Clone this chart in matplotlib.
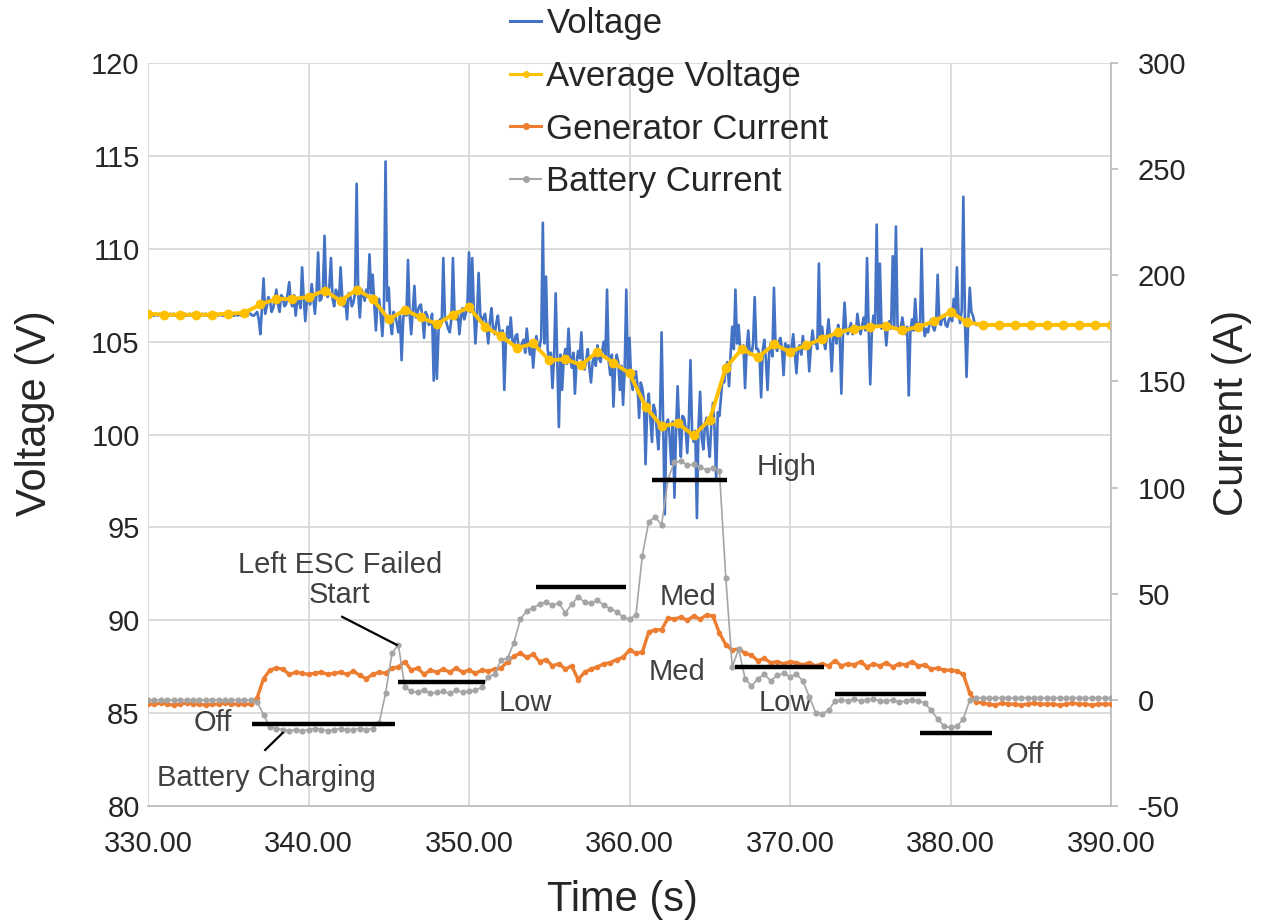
import numpy as np
import matplotlib
matplotlib.use("Agg")
import matplotlib.pyplot as plt
from matplotlib.lines import Line2D

plt.rcParams['font.family'] = ['Liberation Sans', 'DejaVu Sans']
plt.rcParams['axes.unicode_minus'] = False

# Voltage sampled every 0.1 s from 330 s to 390 s (one row = one second)
voltage = [
    106.5, 106.4, 106.5, 106.4, 106.4, 106.5, 106.4, 106.5, 106.4, 106.5,
    106.4, 106.5, 106.4, 106.4, 106.5, 106.4, 106.5, 106.4, 106.4, 106.5,
    106.4, 106.5, 106.4, 106.5, 106.4, 106.4, 106.5, 106.4, 106.5, 106.4,
    106.4, 106.5, 106.4, 106.4, 106.5, 106.4, 106.5, 106.4, 106.4, 106.5,
    106.5, 106.4, 106.4, 106.5, 106.4, 106.5, 106.4, 106.4, 106.5, 106.4,
    106.5, 106.4, 106.5, 106.4, 106.4, 106.5, 106.4, 106.5, 106.4, 106.5,
    106.5, 106.4, 106.4, 106.5, 106.5, 106.4, 106.4, 106.5, 106.6, 106.2,
    105.4, 106.8, 108.4, 106.5, 106.9, 107.4, 107.2, 106.6, 106.8, 107.3,
    107.8, 107.0, 106.6, 107.5, 107.4, 106.9, 107.0, 107.6, 108.2, 107.1,
    106.9, 107.5, 106.4, 107.2, 107.3, 106.8, 109.0, 107.4, 106.1, 107.2,
    107.5, 107.0, 108.1, 107.3, 106.5, 107.6, 109.8, 107.2, 107.3, 107.8,
    110.7, 107.6, 107.4, 108.0, 109.5, 107.3, 106.9, 107.8, 107.6, 107.2,
    109.0, 107.4, 106.9, 107.2, 106.2, 107.6, 107.5, 106.9, 107.1, 107.6,
    113.5, 107.5, 106.3, 107.8, 107.6, 107.2, 107.8, 107.4, 109.7, 107.6,
    108.6, 107.0, 105.6, 107.2, 107.3, 106.4, 105.3, 106.8, 114.7, 107.2,
    107.9, 106.0, 105.4, 106.6, 106.4, 106.0, 105.5, 106.4, 104.0, 106.2,
    106.8, 106.4, 109.4, 106.5, 105.4, 106.7, 108.0, 106.3, 106.6, 106.9,
    107.0, 106.3, 105.2, 106.6, 106.4, 105.9, 106.0, 106.5, 102.9, 105.8,
    103.0, 105.6, 106.2, 106.0, 109.5, 106.3, 106.0, 105.7, 105.5, 106.2,
    109.5, 106.4, 106.2, 106.6, 105.4, 106.3, 106.8, 106.2, 106.5, 106.9,
    109.8, 106.6, 109.5, 106.8, 104.9, 106.4, 108.7, 106.5, 106.0, 106.3,
    106.5, 105.8, 104.9, 106.1, 106.8, 105.7, 105.4, 106.0, 106.4, 105.6,
    105.2, 105.6, 102.4, 105.0, 105.8, 105.2, 106.3, 105.1, 104.8, 105.3,
    105.4, 104.5, 104.6, 104.9, 105.1, 104.4, 105.7, 104.8, 104.3, 104.9,
    103.6, 104.8, 105.3, 104.6, 104.7, 105.2, 111.4, 104.9, 108.5, 104.6,
    104.0, 104.4, 102.5, 104.2, 107.6, 103.9, 100.4, 104.3, 102.4, 104.0,
    104.6, 103.8, 105.7, 104.2, 103.6, 104.4, 102.2, 103.9, 104.5, 104.1,
    105.5, 103.7, 103.5, 104.0, 104.6, 103.6, 102.8, 103.9, 104.2, 103.7,
    104.8, 104.1, 103.9, 104.5, 105.0, 104.2, 107.8, 104.0, 103.2, 104.3,
    101.5, 103.6, 104.3, 103.9, 102.4, 103.7, 101.6, 103.5, 107.8, 103.4,
    105.2, 103.0, 102.4, 103.3, 103.4, 102.6, 100.9, 102.8, 102.5, 101.8,
    98.4, 101.4, 102.2, 100.9, 99.6, 101.6, 101.3, 100.2, 99.2, 101.0,
    105.5, 100.4, 95.7, 100.6, 100.8, 99.9, 98.4, 100.7, 96.6, 100.3,
    102.6, 100.2, 98.8, 101.0, 100.9, 100.3, 99.0, 100.8, 104.0, 100.1,
    99.6, 100.2, 95.5, 100.4, 102.3, 99.8, 99.2, 100.5, 100.9, 99.6,
    98.8, 100.6, 101.7, 100.3, 97.6, 101.2, 101.0, 102.0, 103.1, 102.8,
    103.6, 103.9, 102.6, 104.3, 105.8, 104.6, 107.8, 104.9, 105.9, 104.5,
    104.4, 104.8, 102.5, 104.6, 105.6, 104.3, 104.3, 104.9, 107.4, 104.6,
    104.6, 104.3, 102.0, 104.5, 105.1, 104.0, 102.4, 104.4, 104.9, 104.2,
    107.9, 104.7, 104.5, 105.0, 105.2, 104.6, 103.2, 104.9, 104.6, 104.8,
    104.3, 104.7, 105.4, 104.4, 103.3, 104.6, 104.8, 104.3, 105.3, 104.6,
    104.7, 104.9, 103.4, 104.7, 105.6, 104.9, 105.0, 104.6, 109.2, 105.0,
    105.8, 105.0, 104.6, 105.3, 106.2, 105.1, 103.4, 105.2, 105.5, 104.9,
    105.9, 105.3, 102.2, 105.4, 107.1, 105.6, 105.4, 105.7, 106.0, 105.4,
    105.7, 105.5, 106.5, 105.8, 105.4, 105.9, 106.3, 105.6, 109.5, 105.7,
    102.7, 105.6, 106.4, 105.9, 111.3, 105.8, 109.2, 105.7, 105.9, 106.0,
    104.8, 105.9, 106.1, 105.7, 109.6, 105.8, 111.2, 105.9, 105.5, 105.7,
    106.3, 105.7, 105.4, 105.8, 102.1, 105.5, 106.2, 105.6, 107.3, 105.8,
    106.0, 105.7, 110.0, 105.9, 105.3, 105.7, 105.5, 106.0, 106.2, 105.8,
    105.6, 106.0, 108.6, 106.1, 105.9, 106.3, 106.4, 105.9, 105.8, 106.2,
    106.3, 106.1, 107.3, 106.4, 109.0, 106.5, 106.0, 106.7, 112.8, 106.2,
    103.1, 106.0, 107.9, 106.6, 106.4, 106.0, 105.9, 105.9, 105.9, 105.9,
    105.9, 105.9, 105.9, 105.9, 105.9, 105.9, 105.9, 105.9, 105.9, 105.9,
    105.9, 105.9, 105.9, 105.9, 105.9, 105.9, 105.9, 105.9, 105.9, 105.9,
    105.9, 105.9, 105.9, 105.9, 105.9, 105.9, 105.9, 105.9, 105.9, 105.9,
    105.9, 105.9, 105.9, 105.9, 105.9, 105.9, 105.9, 105.9, 105.9, 105.9,
    105.9, 105.9, 105.9, 105.9, 105.9, 105.9, 105.9, 105.9, 105.9, 105.9,
    105.9, 105.9, 105.9, 105.9, 105.9, 105.9, 105.9, 105.9, 105.9, 105.9,
    105.9, 105.9, 105.9, 105.9, 105.9, 105.9, 105.9, 105.9, 105.9, 105.9,
    105.9, 105.9, 105.9, 105.9, 105.9, 105.9, 105.9, 105.9, 105.9, 105.9,
    105.9,
]

# Average voltage, one point per second, 330 s .. 390 s
avg_voltage = [
    106.5, 106.45, 106.45, 106.45, 106.45, 106.5, 106.55, 107.0, 107.3, 107.3,
    107.4, 107.75, 107.2, 107.8, 107.3, 106.2, 106.7, 106.3, 105.95, 106.45,
    106.85, 105.8, 105.3, 104.65, 104.9, 104.0, 104.05, 103.75, 104.45, 103.85,
    103.3, 101.5, 100.45, 100.6, 99.95, 100.8, 103.6, 104.6, 104.15, 104.85,
    104.45, 104.8, 105.15, 105.5, 105.7, 105.8, 105.85, 105.6, 105.8, 106.1,
    106.6, 106.05, 105.9, 105.9, 105.9, 105.9, 105.9, 105.9, 105.9, 105.9,
    105.9,
]

# Currents sampled every 0.4 s (one row = two seconds)
gen_current = [
    -2, -2, -1.5, -2, -2.5,
    -2, -1.5, -2, -2, -2.5,
    -2, -2, -1.5, -2, -2,
    -2, -2, 1, 10, 14,
    15, 14.5, 12, 13, 12.5,
    12, 12.5, 13, 12, 12.5,
    13, 12, 13.5, 11.5, 10,
    12, 13, 12.5, 15, 15.5,
    18, 14, 15, 12, 14,
    13, 14.5, 13, 15, 13,
    14, 12.5, 14, 13.5, 14.5,
    15, 18, 20.5, 22, 20,
    21.5, 18, 19, 16, 17,
    14.5, 16, 9.5, 13, 14.5,
    15.5, 17, 17.5, 19, 20,
    23.5, 22, 22.5, 32, 33,
    33, 38.5, 38, 39, 37.5,
    39.5, 38, 40, 39.5, 31.5,
    26, 23.5, 24, 22, 21,
    18.5, 19.5, 17.5, 18, 17,
    18, 17.5, 16.5, 17.5, 16,
    17, 16, 18.5, 16, 17,
    16.5, 18, 15.5, 17, 16,
    17.5, 15.5, 17, 16.5, 18,
    16, 16.5, 14.5, 15, 14,
    14, 13.5, 12, 3, -1,
    -1.5, -2, -2.5, -1.5, -2,
    -2, -2.5, -2, -1.5, -2,
    -2, -2, -2.5, -2, -1.5,
    -2, -2, -2.5, -2, -2,
    -2,
]

bat_current = [
    0, 0, 0, 0, 0,
    0, 0, 0, 0, 0,
    0, 0, 0, 0, 0,
    0, 0, -1, -7, -13,
    -13.5, -14, -14.5, -14, -14.5,
    -14, -13.5, -14, -14.5, -14,
    -13.5, -14, -14, -13.5, -14,
    -13.5, -11, 3, 22, 26,
    6, 4, 3.5, 4.5, 3,
    3.5, 4, 3, 4.5, 3.5,
    4, 4.5, 6, 11, 12,
    19, 19.5, 27, 38, 42,
    43.5, 45, 46, 44.5, 45.5,
    41, 45, 48.5, 46, 45.5,
    47, 44.5, 43, 41.5, 39,
    38, 40, 68, 84, 86,
    82.5, 104, 112, 112.5, 110.5,
    111, 109.5, 108.5, 109, 108,
    57.5, 15.5, 24, 10, 6.5,
    10, 12, 9, 11.5, 12.5,
    11, 12, 9, 1.5, -6,
    -6.5, -5, -0.5, 0, -0.5,
    0.5, -0.5, 0, 0.5, -0.5,
    -0.5, 0, -1, -0.5, 0,
    -0.5, -1.5, -5, -9, -12.5,
    -13, -12.5, -9, 0, 1,
    1, 1, 1, 1, 1,
    1, 1, 1, 1, 1,
    1, 1, 1, 1, 1,
    1, 1, 1, 1, 1,
    1,
]

t_volt = np.round(np.linspace(330, 390, len(voltage)), 1)
t_avg = np.linspace(330, 390, len(avg_voltage))
t_cur = np.round(np.linspace(330, 390, len(gen_current)), 1)

# drive-level bars (start s, end s, current A) and their labels
level_start = [336.5, 345.6, 354.2, 361.4, 366.6, 372.8, 378.1]
level_end = [345.4, 351.0, 359.8, 366.1, 372.1, 378.5, 382.6]
level_amp = [-11.3, 8.3, 53.0, 103.6, 15.5, 2.7, -15.6]

note_text = ["Off", "Battery Charging", "Low", "High", "Med", "Med", "Low", "Off"]
note_t = [334.05, 337.4, 353.5, 369.8, 363.65, 362.95, 369.7, 384.65]
note_amp = [-10.8, -36.7, -1.4, 109.7, 48.5, 13.2, -1.4, -25.9]

c_volt = '#4472C4'
c_avg = '#FFC000'
c_gen = '#ED7D31'
c_bat = '#A5A5A5'
txt = '#404040'

fig = plt.figure(figsize=(12.61, 9.24), dpi=100)
ax = fig.add_axes([148 / 1261, 118 / 924, 963 / 1261, 743 / 924])
ax2 = ax.twinx()

ax.plot(t_volt, voltage, color=c_volt, lw=1.9, zorder=3)
ax.plot(t_avg, avg_voltage, color=c_avg, lw=2.8, marker='o', ms=6, zorder=4)
ax2.plot(t_cur, gen_current, color=c_gen, lw=2.4, marker='o', ms=3, zorder=3)
ax2.plot(t_cur, bat_current, color=c_bat, lw=1.2, marker='o', ms=3.4, zorder=4)

ax2.hlines(level_amp, level_start, level_end, colors='black', lw=3.2, zorder=5)
for s, t, a in zip(note_text, note_t, note_amp):
    ax2.text(t, a, s, fontsize=21, color=txt, ha='center', va='center')
ax2.text(341.96, 56.5, "Left ESC Failed\nStart", fontsize=21, color=txt,
         ha='center', va='center', multialignment='center', linespacing=1.1)
ax2.plot([342.1, 345.5], [39.1, 25.9], color='black', lw=1.6, zorder=5)
ax2.plot([337.3, 338.4], [-23.6, -15.5], color='black', lw=1.6, zorder=5)

ax.set_xlim(330, 390)
ax.set_ylim(80, 120)
ax2.set_ylim(-50, 300)
ax.set_xticks(np.arange(330, 391, 10))
ax.set_xticklabels([f"{v:.2f}" for v in range(330, 391, 10)])
ax.set_yticks(np.arange(80, 121, 5))
ax2.set_yticks(np.arange(-50, 301, 50))

ax.set_axisbelow(True)
ax.grid(True, color='#d9d9d9', lw=1.3)
for sp in ['top', 'left', 'right']:
    ax.spines[sp].set_visible(False)
ax.spines['bottom'].set_color('#bfbfbf')
ax.spines['bottom'].set_linewidth(1.3)
for sp in ['top', 'left', 'bottom']:
    ax2.spines[sp].set_visible(False)
ax2.spines['right'].set_color('#bfbfbf')
ax2.spines['right'].set_linewidth(1.3)

ax.tick_params(axis='x', length=0, pad=17, labelsize=21, labelcolor='#262626')
ax.tick_params(axis='y', length=0, pad=6, labelsize=21, labelcolor='#262626')
ax2.tick_params(axis='y', length=5, width=1.3, color='#bfbfbf', pad=14,
                labelsize=21, labelcolor='#262626')

fig.text(35 / 1261, 1 - 413 / 924, "Voltage (V)", rotation=90, fontsize=30,
         ha='center', va='center', color='#262626')
fig.text(1232 / 1261, 1 - 413 / 924, "Current (A)", rotation=90, fontsize=30,
         ha='center', va='center', color='#262626')
fig.text(622 / 1261, 1 - 900 / 924, "Time (s)", fontsize=30,
         ha='center', va='center', color='#262626')

handles = [
    Line2D([], [], color=c_volt, lw=2.2),
    Line2D([], [], color=c_avg, lw=2.2, marker='o', ms=4),
    Line2D([], [], color=c_gen, lw=2.2, marker='o', ms=4),
    Line2D([], [], color=c_bat, lw=1.5, marker='o', ms=4),
]
labels = ["Voltage", "Average Voltage", "Generator Current", "Battery Current"]
fig.legend(handles, labels, loc='upper left', bbox_to_anchor=(510 / 1261, 1 - 7 / 924),
           frameon=False, fontsize=25, handlelength=0.9, handletextpad=0.15,
           labelspacing=0.57, borderpad=0, borderaxespad=0, labelcolor='#262626')

fig.savefig("out.png", dpi=100)
